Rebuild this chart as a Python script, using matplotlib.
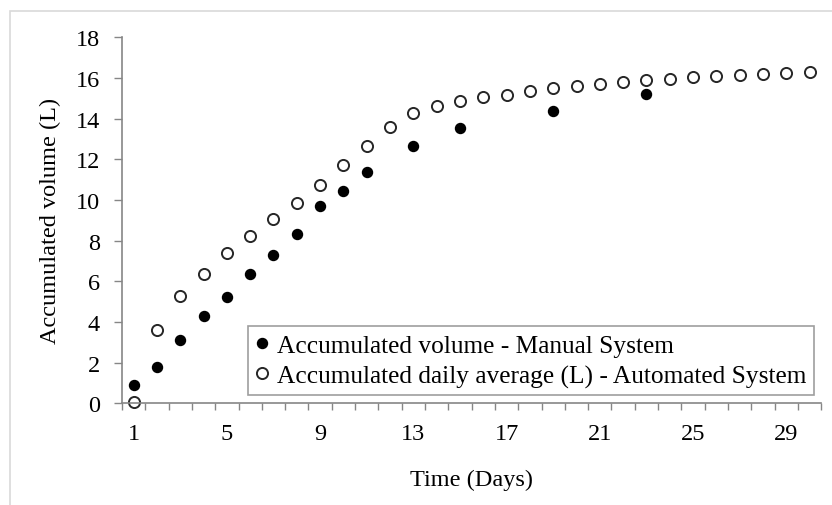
import numpy as np
import matplotlib
matplotlib.use("Agg")
import matplotlib.pyplot as plt
from matplotlib.patches import Rectangle
from matplotlib.ticker import FixedLocator

plt.rcParams['font.family'] = ['Liberation Serif', 'DejaVu Serif']

# ---------------------------------------------------------------
#                             data
# ---------------------------------------------------------------
manual_days = [1, 2, 3, 4, 5, 6, 7, 8, 9, 10, 11, 13, 15, 19, 23]
manual_vol = [0.90, 1.77, 3.12, 4.28, 5.24, 6.36, 7.29, 8.31, 9.69, 10.46,
              11.39, 12.63, 13.52, 14.38, 15.23]

auto_days = list(range(1, 31))
auto_vol = [0.08, 3.62, 5.29, 6.36, 7.39, 8.24, 9.05, 9.85, 10.74, 11.71,
            12.66, 13.58, 14.26, 14.62, 14.85, 15.07, 15.18, 15.36, 15.49,
            15.59, 15.71, 15.82, 15.90, 15.95, 16.03, 16.10, 16.16, 16.21,
            16.25, 16.31]

x_labels = [1, 5, 9, 13, 17, 21, 25, 29]
y_ticks = [0, 2, 4, 6, 8, 10, 12, 14, 16, 18]

label_manual = "Accumulated volume - Manual System"
label_auto = "Accumulated daily average (L) - Automated System"

# ---------------------------------------------------------------
#                             plot
# ---------------------------------------------------------------
fs = 17.5
fig = plt.figure(figsize=(8.32, 5.06), dpi=100)
ax = fig.add_axes([0.1466, 0.201, 0.8405, 0.7233])

# light frame around the chart area
fig.patches.append(Rectangle((10/832, -0.1), 1.0, 1 - 12/506 + 0.1,
                             transform=fig.transFigure, fill=False,
                             edgecolor='#d9d9d9', linewidth=1.2))

ax.plot(manual_days, manual_vol, 'o', markersize=7.2, color='black',
        label=label_manual, clip_on=False)
ax.plot(auto_days, auto_vol, 'o', markersize=8, markerfacecolor='white',
        markeredgecolor='#262626', markeredgewidth=1.4, label=label_auto,
        clip_on=False)

gray = '#868686'
ax.set_xlim(0.5, 30.5)
ax.set_ylim(0, 18)
ax.set_yticks(y_ticks)
ax.set_xticks(x_labels)
ax.xaxis.set_minor_locator(FixedLocator(np.arange(0.5, 31, 1)))
ax.tick_params(axis='x', which='major', length=0, pad=14, labelsize=fs)
ax.tick_params(axis='x', which='minor', length=5, color=gray, width=1)
ax.tick_params(axis='y', which='major', length=6, color=gray, width=1,
               labelsize=fs, pad=10)

for s in ['top', 'right']:
    ax.spines[s].set_visible(False)
for s in ['left', 'bottom']:
    ax.spines[s].set_color(gray)
    ax.spines[s].set_linewidth(1.2)

ax.set_xlabel("Time (Days)", fontsize=fs, labelpad=18)
ax.set_ylabel("Accumulated volume (L)", fontsize=fs, labelpad=10)

leg = ax.legend(loc='lower right', bbox_to_anchor=(0.99, 0.022),
                prop={'size': 18.3}, frameon=True, fancybox=False,
                handlelength=0.5, handletextpad=0.35, borderpad=0.3,
                labelspacing=0.3, borderaxespad=0)
leg.get_frame().set_edgecolor(gray)
leg.get_frame().set_linewidth(1.2)

fig.savefig("out.png", dpi=100)
